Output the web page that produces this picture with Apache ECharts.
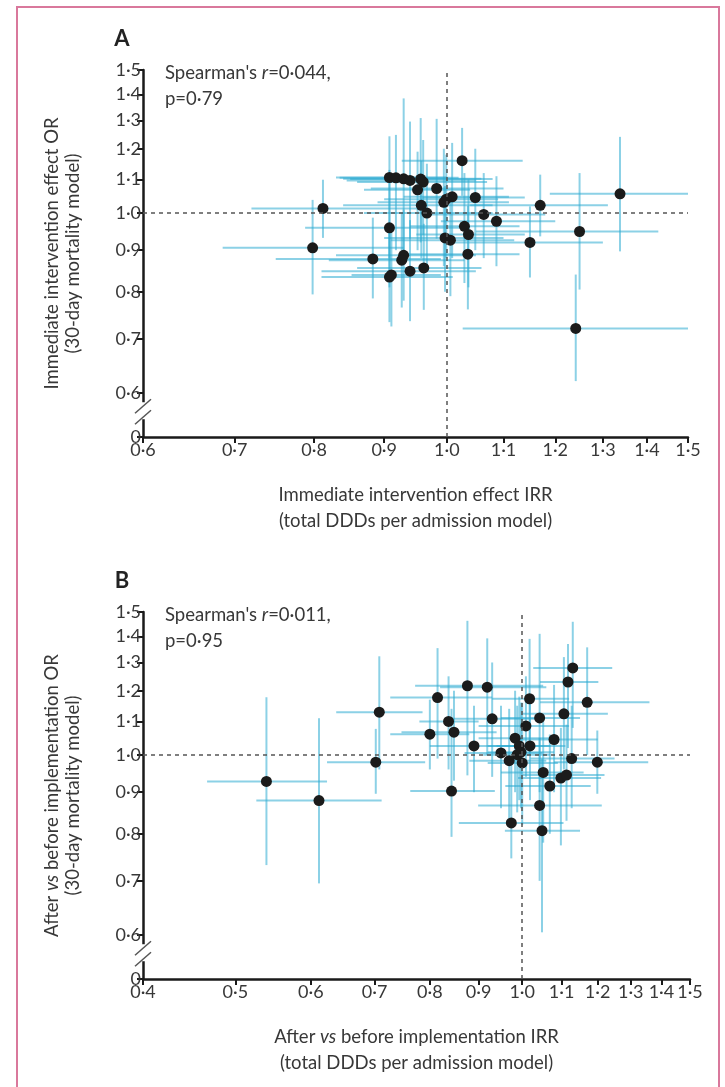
<!DOCTYPE html>
<html><head><meta charset="utf-8">
<script src="https://cdn.jsdelivr.net/npm/echarts@6/dist/echarts.min.js"></script>
<style>html,body{margin:0;padding:0;background:#fff;}#c{width:725px;height:1087px;}</style>
</head><body><div id="c"></div>
<script>
// ---- tick values ----
const xTicksA = [0.6,0.7,0.8,0.9,1.0,1.1,1.2,1.3,1.4,1.5];
const xTicksB = [0.4,0.5,0.6,0.7,0.8,0.9,1.0,1.1,1.2,1.3,1.4,1.5];
const yTicks = [0.6,0.7,0.8,0.9,1.0,1.1,1.2,1.3,1.4,1.5];
const yZeroValue = 0.53;   // bottom of broken axis, labelled "0"

// ---- Panel A: immediate intervention effect ----
const aIRR     = [1.026,0.908,0.918,0.930,0.940,0.957,0.961,0.952,0.983,1.009,0.999,0.995,1.049,0.812,0.958,0.967,0.908,1.030,1.037,0.997,1.006,0.798,0.883,1.036,0.930,0.927,0.940,0.962,0.908,0.911,1.170,1.338,1.064,1.087,1.250,1.150,1.242];
const aIRRLow  = [0.927,0.830,0.835,0.840,0.845,0.850,0.860,0.870,0.880,0.930,0.900,0.890,0.960,0.720,0.840,0.870,0.788,0.940,0.950,0.900,0.910,0.686,0.750,0.930,0.830,0.820,0.810,0.860,0.810,0.852,1.040,1.189,0.960,0.990,1.050,1.010,1.027];
const aIRRHigh = [1.136,1.000,1.020,1.060,1.050,1.080,1.070,1.040,1.100,1.110,1.090,1.110,1.140,0.960,1.080,1.080,1.040,1.130,1.140,1.100,1.120,0.930,0.990,1.130,1.050,1.030,1.050,1.060,1.010,0.990,1.311,1.500,1.180,1.200,1.427,1.300,1.500];
const aOR      = [1.160,1.106,1.105,1.102,1.097,1.101,1.092,1.068,1.072,1.047,1.040,1.031,1.045,1.013,1.022,1.000,0.959,0.963,0.941,0.932,0.926,0.906,0.878,0.890,0.887,0.875,0.848,0.856,0.834,0.839,1.022,1.056,0.996,0.977,0.949,0.920,0.721];
const aORLow   = [1.050,0.880,0.900,0.878,0.930,0.920,0.940,0.900,0.930,0.880,0.880,0.860,0.900,0.932,0.880,0.860,0.810,0.820,0.810,0.800,0.790,0.794,0.785,0.761,0.780,0.765,0.736,0.760,0.734,0.725,0.936,0.897,0.880,0.860,0.805,0.833,0.621];
const aORHigh  = [1.273,1.243,1.248,1.384,1.296,1.309,1.230,1.190,1.306,1.220,1.180,1.200,1.200,1.099,1.160,1.150,1.130,1.120,1.100,1.080,1.060,1.038,0.987,1.020,1.010,1.000,0.980,0.970,0.950,0.960,1.115,1.241,1.120,1.110,1.120,1.019,0.840];

// ---- Panel B: after vs before implementation ----
const bIRR     = [1.130,1.117,0.876,0.919,0.815,1.018,1.170,1.106,1.043,0.930,0.837,1.009,0.800,0.848,0.983,1.080,0.890,0.993,1.019,0.950,0.988,0.969,1.000,1.127,1.199,1.052,1.098,1.113,1.069,0.843,1.043,0.974,1.049,0.997,0.539,0.612,0.708,0.702];
const bIRRLow  = [1.027,1.044,0.772,0.820,0.727,0.930,1.044,1.000,0.950,0.840,0.780,0.900,0.727,0.747,0.900,0.990,0.800,0.920,0.940,0.870,0.910,0.880,0.920,1.020,1.080,0.950,0.990,1.000,0.960,0.763,0.899,0.858,0.959,0.920,0.467,0.526,0.638,0.624];
const bIRRHigh = [1.243,1.202,1.052,1.060,0.930,1.120,1.360,1.230,1.150,1.040,0.900,1.120,0.880,0.940,1.080,1.200,1.000,1.070,1.110,1.050,1.070,1.060,1.090,1.250,1.356,1.160,1.210,1.220,1.180,0.936,1.212,1.105,1.150,1.080,0.624,0.712,0.786,0.791];
const bOR      = [1.280,1.230,1.217,1.212,1.177,1.173,1.161,1.124,1.111,1.108,1.100,1.086,1.061,1.067,1.049,1.045,1.026,1.026,1.026,1.006,1.001,0.984,0.978,0.990,0.980,0.952,0.937,0.945,0.916,0.903,0.867,0.825,0.807,1.008,0.928,0.879,1.129,0.980];
const bORLow   = [1.080,1.020,0.944,1.000,0.990,1.000,1.000,0.960,0.900,0.940,0.960,0.940,0.960,0.930,0.900,0.900,0.900,0.880,0.880,0.860,0.850,0.830,0.820,0.860,0.896,0.780,0.774,0.830,0.800,0.793,0.700,0.746,0.605,0.860,0.732,0.695,0.960,0.896];
const bORHigh  = [1.459,1.370,1.463,1.392,1.354,1.390,1.357,1.320,1.410,1.300,1.250,1.250,1.170,1.200,1.200,1.220,1.150,1.180,1.160,1.150,1.150,1.140,1.160,1.150,1.072,1.120,1.080,1.090,1.060,1.140,1.050,0.990,0.990,1.160,1.178,1.110,1.323,1.077];

const FONT = 'Lato, "Open Sans", sans-serif';
const TXT = '#383838';
const fmt = v => Math.abs(v - yZeroValue) < 1e-6 ? '0' : Number(v).toFixed(1).replace('.', '\u00b7');

function rows(x, xl, xh, y, yl, yh) {
  return x.map((v, i) => [v, y[i], xl[i], xh[i], yl[i], yh[i]]);
}
const aRows = rows(aIRR, aIRRLow, aIRRHigh, aOR, aORLow, aORHigh);
const bRows = rows(bIRR, bIRRLow, bIRRHigh, bOR, bORLow, bORHigh);

function errRender(params, api) {
  const x = api.value(0), y = api.value(1);
  const h1 = api.coord([api.value(2), y]), h2 = api.coord([api.value(3), y]);
  const v1 = api.coord([x, api.value(4)]), v2 = api.coord([x, api.value(5)]);
  const style = { stroke: 'rgba(45,172,210,0.55)', lineWidth: 2 };
  return { type: 'group', children: [
    { type: 'line', shape: { x1: h1[0], y1: h1[1], x2: h2[0], y2: h2[1] }, style },
    { type: 'line', shape: { x1: v1[0], y1: v1[1], x2: v2[0], y2: v2[1] }, style }
  ]};
}

function xAxisCfg(grid, ticks) {
  return {
    type: 'log', gridIndex: grid, min: ticks[0], max: ticks[ticks.length - 1],
    axisLine: { show: true, onZero: false, lineStyle: { color: '#1a1a1a', width: 2.5 } },
    axisTick: { show: true, customValues: ticks, length: 6, lineStyle: { color: '#1a1a1a', width: 2 } },
    axisLabel: { customValues: ticks, formatter: fmt, color: TXT, fontSize: 18, fontFamily: FONT, margin: 4 },
    splitLine: { show: false }, minorTick: { show: false }
  };
}
function yAxisCfg(grid) {
  const t = [yZeroValue].concat(yTicks);
  return {
    type: 'log', gridIndex: grid, min: yZeroValue, max: 1.5,
    axisLine: { show: true, onZero: false, lineStyle: { color: '#1a1a1a', width: 2.5 } },
    axisTick: { show: true, customValues: t, length: 6, lineStyle: { color: '#1a1a1a', width: 2 } },
    axisLabel: { customValues: t, formatter: fmt, color: TXT, fontSize: 18, fontFamily: FONT, margin: 2 },
    splitLine: { show: false }, minorTick: { show: false }
  };
}
const refLine = {
  silent: true, symbol: 'none', label: { show: false },
  lineStyle: { color: '#555', type: [4, 4], width: 1.5 },
  data: [{ xAxis: 1 }, { yAxis: 1 }]
};

const chart = echarts.init(document.getElementById('c'), null, { renderer: 'canvas' });
const gridA = { left: 143, right: 37, top: 70, height: 367 };
const gridB = { left: 143, right: 35, top: 612, height: 367 };
const option = {
  animation: false,
  grid: [gridA, gridB],
  xAxis: [xAxisCfg(0, xTicksA), xAxisCfg(1, xTicksB)],
  yAxis: [yAxisCfg(0), yAxisCfg(1)],
  series: [
    { type: 'custom', xAxisIndex: 0, yAxisIndex: 0, data: aRows, renderItem: errRender,
      encode: { x: [0, 2, 3], y: [1, 4, 5] }, z: 2 },
    { type: 'scatter', xAxisIndex: 0, yAxisIndex: 0, data: aRows.map(r => [r[0], r[1]]),
      symbolSize: 11, itemStyle: { color: '#1b1b1b', opacity: 1 }, z: 4, markLine: refLine },
    { type: 'custom', xAxisIndex: 1, yAxisIndex: 1, data: bRows, renderItem: errRender,
      encode: { x: [0, 2, 3], y: [1, 4, 5] }, z: 2 },
    { type: 'scatter', xAxisIndex: 1, yAxisIndex: 1, data: bRows.map(r => [r[0], r[1]]),
      symbolSize: 11, itemStyle: { color: '#1b1b1b', opacity: 1 }, z: 4, markLine: refLine }
  ]
};
chart.setOption(option);

// decorations: frame, panel letters, annotations, axis titles, axis breaks
function txt(x, y, text, extra) {
  return Object.assign({ type: 'text', x: x, y: y, z: 10,
    style: Object.assign({ text: text, fill: TXT, font: '18.5px ' + FONT, align: 'center', verticalAlign: 'middle' }, extra || {}) });
}
const g = [];
g.push({ type: 'rect', shape: { x: 17, y: 7, width: 702, height: 1100 }, style: { fill: 'none', stroke: '#d9789c', lineWidth: 2 }, z: 0 });
const panels = [
  { grid: 0, letter: 'A', r: '0\u00b7044', p: '0\u00b779', xt: 'Immediate intervention effect IRR',
    yt: 'Immediate intervention effect OR' },
  { grid: 1, letter: 'B', r: '0\u00b7011', p: '0\u00b795', xt: 'After {i|vs} before implementation IRR',
    yt: 'After {i|vs} before implementation OR' }
];
const rich = { i: { fontStyle: 'italic', fontFamily: FONT, fontSize: 18.5, fill: TXT } };
panels.forEach(pn => {
  const gi = pn.grid;
  const top = chart.convertToPixel({ gridIndex: gi }, [gi === 0 ? 0.6 : 0.4, 1.5]);
  const bot = chart.convertToPixel({ gridIndex: gi }, [1.5, yZeroValue]);
  const six = chart.convertToPixel({ gridIndex: gi }, [1.0, 0.6]);
  const ax = top[0], yTop = top[1], yBot = bot[1], xRight = bot[0];
  const midX = (ax + xRight) / 2, midY = (yTop + yBot) / 2;
  g.push(txt(ax - 21, yTop - 31, pn.letter, { font: 'bold 22px ' + FONT, fill: '#222' }));
  g.push(txt(ax + 22, yTop + 3, "Spearman's {i|r}=" + pn.r + ',', { align: 'left', rich: rich }));
  g.push(txt(ax + 22, yTop + 29, 'p=' + pn.p, { align: 'left' }));
  g.push(txt(midX, yBot + 58, pn.xt, { rich: rich }));
  g.push(txt(midX, yBot + 84, '(total DDDs per admission model)'));
  g.push(Object.assign(txt(ax - 91, midY, pn.yt, { rich: rich }), { rotation: Math.PI / 2 }));
  g.push(Object.assign(txt(ax - 70, midY, '(30-day mortality model)'), { rotation: Math.PI / 2 }));
  // axis break
  const y6 = six[1];
  g.push({ type: 'rect', z: 20, shape: { x: ax - 3, y: y6 + 9, width: 6, height: 17 }, style: { fill: '#fff' } });
  g.push({ type: 'line', z: 21, shape: { x1: ax - 8, y1: y6 + 20, x2: ax + 8, y2: y6 + 6 }, style: { stroke: '#555', lineWidth: 1.5 } });
  g.push({ type: 'line', z: 21, shape: { x1: ax - 8, y1: y6 + 31, x2: ax + 8, y2: y6 + 17 }, style: { stroke: '#555', lineWidth: 1.5 } });
});
chart.setOption({ graphic: g });
</script></body></html>
